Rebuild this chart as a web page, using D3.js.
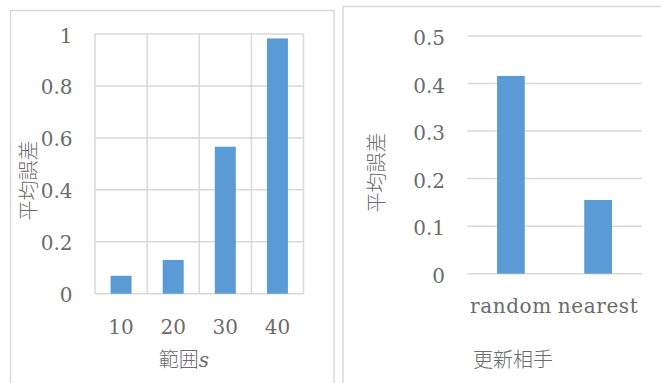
<!DOCTYPE html>
<html>
<head>
<meta charset="utf-8">
<script src="https://cdn.jsdelivr.net/npm/d3@7"></script>
<style>
  html, body { margin: 0; padding: 0; background: #fff; }
  svg { display: block; }
  .num { font-family: "DejaVu Serif", serif; font-size: 20px; fill: #6b6b6b; }
  .cjk { font-family: "Noto Sans CJK JP", sans-serif; font-size: 20px; font-weight: 300; fill: #6b6b6b; }
</style>
</head>
<body>
<svg id="chart" width="661" height="383"></svg>
<script>
// Left chart: mean error by range s
const rangeCategories = ["10", "20", "30", "40"];
const rangeValues = [0.069, 0.130, 0.566, 0.983];
const rangeTicks = [0, 0.2, 0.4, 0.6, 0.8, 1];
const rangeTickLabels = ["0", "0.2", "0.4", "0.6", "0.8", "1"];

// Right chart: mean error by update partner
const partnerCategories = ["random", "nearest"];
const partnerValues = [0.416, 0.155];
const partnerTicks = [0, 0.1, 0.2, 0.3, 0.4, 0.5];
const partnerTickLabels = ["0", "0.1", "0.2", "0.3", "0.4", "0.5"];

const barColor = "#5B9BD5";
const gridColor = "#d9d9d9";

const svg = d3.select("#chart");

// chart frames
svg.append("rect").attr("x", 10.5).attr("y", 10.5).attr("width", 323.5).attr("height", 400)
  .attr("fill", "none").attr("stroke", gridColor).attr("stroke-width", 1.5);
svg.append("rect").attr("x", 343).attr("y", 6.5).attr("width", 340).attr("height", 400)
  .attr("fill", "none").attr("stroke", gridColor).attr("stroke-width", 1.5);

// ---------- left chart ----------
{
  const g = svg.append("g");
  const x0 = 95, x1 = 303.5, yTop = 34, yBot = 293.7;
  const cells = d3.scaleBand().domain(rangeCategories).range([x0, x1]).padding(0);
  const x = d3.scaleBand().domain(rangeCategories).range([x0, x1])
    .paddingInner(0.597).paddingOuter(0.2985);
  const y = d3.scaleLinear().domain([0, 1]).range([yBot, yTop]);

  // horizontal gridlines
  g.selectAll("line.h").data(rangeTicks).join("line")
    .attr("x1", x0).attr("x2", x1)
    .attr("y1", d => y(d)).attr("y2", d => y(d))
    .attr("stroke", gridColor).attr("stroke-width", 1.5);
  // vertical gridlines at category boundaries
  const bounds = rangeCategories.map(c => cells(c)).concat([x1]);
  g.selectAll("line.v").data(bounds).join("line")
    .attr("x1", d => d).attr("x2", d => d)
    .attr("y1", yTop).attr("y2", yBot)
    .attr("stroke", gridColor).attr("stroke-width", 1.5);

  g.selectAll("rect.bar").data(rangeValues).join("rect")
    .attr("x", (d, i) => x(rangeCategories[i]))
    .attr("width", x.bandwidth())
    .attr("y", d => y(d))
    .attr("height", d => y(0) - y(d))
    .attr("fill", barColor);

  g.selectAll("text.yt").data(rangeTicks).join("text")
    .attr("class", "num").attr("text-anchor", "end")
    .attr("x", 72.5).attr("y", d => y(d) + 8.5)
    .text((d, i) => rangeTickLabels[i]);

  g.selectAll("text.xt").data(rangeCategories).join("text")
    .attr("class", "num").attr("text-anchor", "middle")
    .attr("x", d => cells(d) + cells.bandwidth() / 2).attr("y", 334)
    .text(d => d);

  const xt = g.append("text").attr("class", "cjk").attr("text-anchor", "middle")
    .attr("x", 184).attr("y", 367);
  xt.append("tspan").text("範囲");
  xt.append("tspan").attr("font-family", "DejaVu Serif, serif").attr("font-style", "italic").text("s");

  g.append("text").attr("class", "cjk").attr("text-anchor", "middle")
    .attr("transform", "translate(36,180.5) rotate(-90)")
    .text("平均誤差");
}

// ---------- right chart ----------
{
  const g = svg.append("g");
  const x0 = 467.3, x1 = 641.7, yTop = 36, yBot = 273.7;
  const cells = d3.scaleBand().domain(partnerCategories).range([x0, x1]).padding(0);
  const x = d3.scaleBand().domain(partnerCategories).range([x0, x1])
    .paddingInner(0.682).paddingOuter(0.341);
  const y = d3.scaleLinear().domain([0, 0.5]).range([yBot, yTop]);

  g.selectAll("line.h").data(partnerTicks).join("line")
    .attr("x1", x0).attr("x2", x1)
    .attr("y1", d => y(d)).attr("y2", d => y(d))
    .attr("stroke", gridColor).attr("stroke-width", 1.5);

  g.selectAll("rect.bar").data(partnerValues).join("rect")
    .attr("x", (d, i) => x(partnerCategories[i]))
    .attr("width", x.bandwidth())
    .attr("y", d => y(d))
    .attr("height", d => y(0) - y(d))
    .attr("fill", barColor);

  g.selectAll("text.yt").data(partnerTicks).join("text")
    .attr("class", "num").attr("text-anchor", "end")
    .attr("x", 445).attr("y", d => y(d) + 9)
    .text((d, i) => partnerTickLabels[i]);

  g.selectAll("text.xt").data(partnerCategories).join("text")
    .attr("class", "num").attr("text-anchor", "middle")
    .attr("letter-spacing", "0.6px")
    .attr("x", d => cells(d) + cells.bandwidth() / 2).attr("y", 313)
    .text(d => d);

  g.append("text").attr("class", "cjk").attr("text-anchor", "middle")
    .attr("x", 513).attr("y", 367)
    .text("更新相手");

  g.append("text").attr("class", "cjk").attr("text-anchor", "middle")
    .attr("transform", "translate(383.5,172.5) rotate(-90)")
    .text("平均誤差");
}
</script>
</body>
</html>
